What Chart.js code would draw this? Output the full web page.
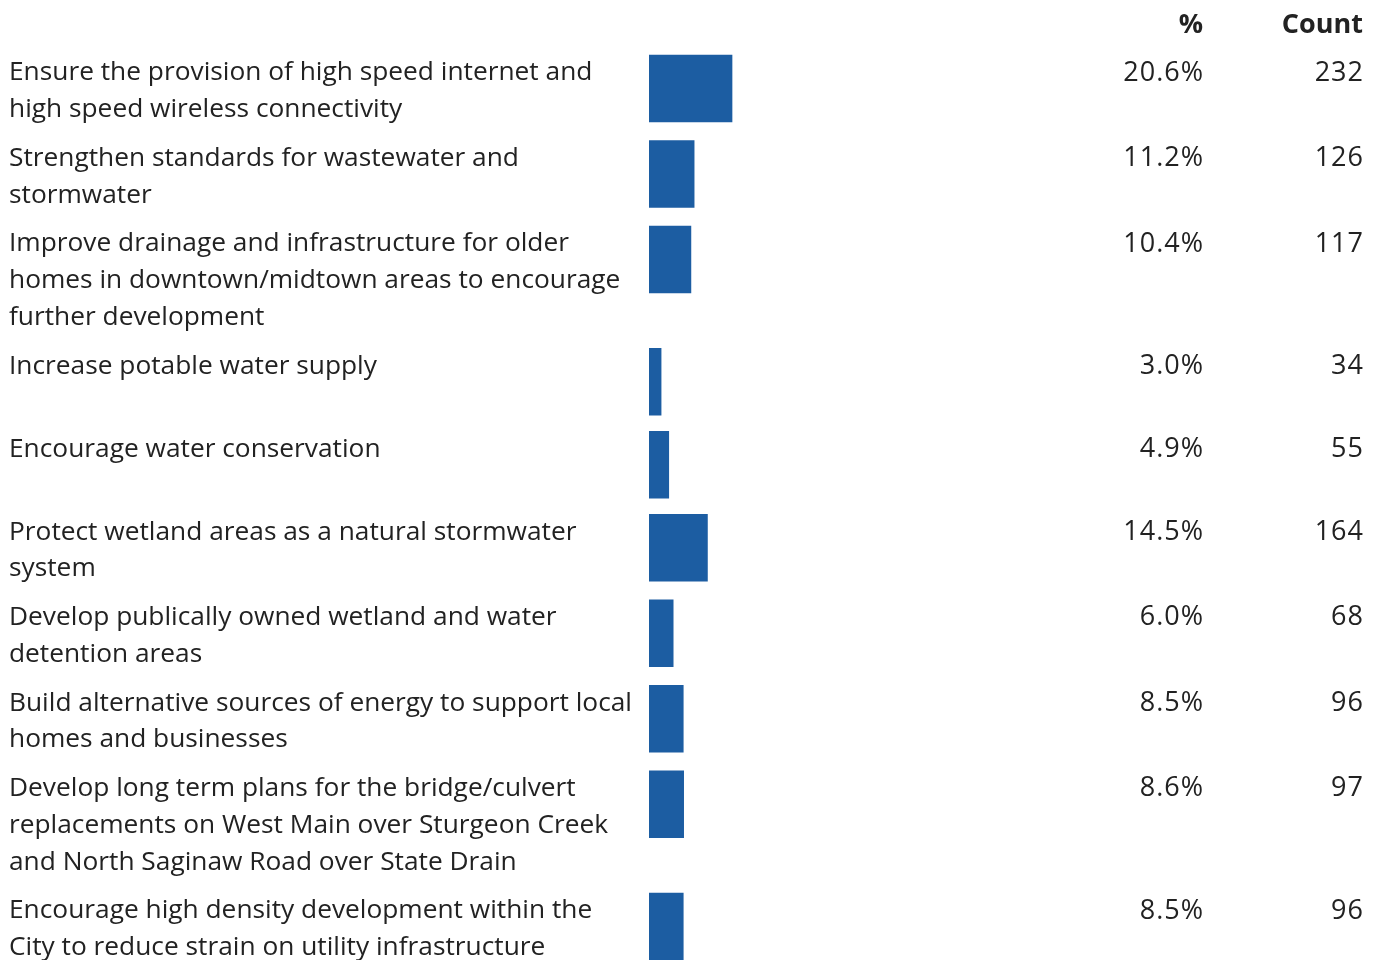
<!DOCTYPE html>
<html>
<head>
<meta charset="utf-8">
<script src="https://cdn.jsdelivr.net/npm/chart.js@4"></script>
<style>
  body { margin: 0; background: #fff; }
  #wrap { width: 1374px; height: 960px; position: relative; }
</style>
</head>
<body>
<div id="wrap"><canvas id="myChart"></canvas></div>
<script>
// chart data
const categories = [
    ['Ensure the provision of high speed internet and', 'high speed wireless connectivity'],
    ['Strengthen standards for wastewater and', 'stormwater'],
    ['Improve drainage and infrastructure for older', 'homes in downtown/midtown areas to encourage', 'further development'],
    ['Increase potable water supply'],
    ['Encourage water conservation'],
    ['Protect wetland areas as a natural stormwater', 'system'],
    ['Develop publically owned wetland and water', 'detention areas'],
    ['Build alternative sources of energy to support local', 'homes and businesses'],
    ['Develop long term plans for the bridge/culvert', 'replacements on West Main over Sturgeon Creek', 'and North Saginaw Road over State Drain'],
    ['Encourage high density development within the', 'City to reduce strain on utility infrastructure']
];
const percents = [20.6, 11.2, 10.4, 3.0, 4.9, 14.5, 6.0, 8.5, 8.6, 8.5];
const counts = [232, 126, 117, 34, 55, 164, 68, 96, 97, 96];
const headers = ['%', 'Count'];

document.addEventListener("DOMContentLoaded", function () {

    const FONT = '"Open Sans", "Noto Sans", sans-serif';
    const LINE = 36.75;
    const BAR = 67;

    // row tops depend on how many lines the label wraps to
    const rowTops = [];
    let top = 55;
    categories.forEach(lines => {
        rowTops.push(top);
        top += Math.max(83, LINE * lines.length + 12);
    });

    const points = percents.map((p, i) => ({ x: p, y: rowTops[i] + BAR / 2 }));

    // draws labels, percentages and counts beside the bars
    const tableText = {
        id: 'tableText',
        afterDraw(chart) {
            const ctx = chart.ctx;
            const yScale = chart.scales.y;
            ctx.save();
            ctx.fillStyle = '#222';
            ctx.textBaseline = 'middle';

            ctx.font = 'bold 27px ' + FONT;
            ctx.textAlign = 'right';
            ctx.fillText(headers[0], 1203, 25);
            ctx.fillText(headers[1], 1363, 25);

            categories.forEach((lines, i) => {
                const y0 = yScale.getPixelForValue(rowTops[i]) + 18;
                ctx.font = '26.3px ' + FONT;
                ctx.letterSpacing = '0px';
                ctx.textAlign = 'left';
                lines.forEach((line, k) => ctx.fillText(line, 9, y0 + k * LINE));
                ctx.textAlign = 'right';
                ctx.font = '27px ' + FONT;
                ctx.letterSpacing = '1px';
                ctx.fillText(percents[i].toFixed(1) + '%', 1204, y0);
                ctx.fillText(String(counts[i]), 1364, y0);
            });
            ctx.restore();
        }
    };

    const ctx = document.getElementById('myChart').getContext('2d');
    new Chart(ctx, {
        type: 'bar',
        data: {
            datasets: [{
                data: points,
                backgroundColor: '#1c5da2',
                borderWidth: 0,
                barThickness: BAR
            }]
        },
        options: {
            indexAxis: 'y',
            responsive: true,
            maintainAspectRatio: false,
            animation: false,
            layout: { padding: { left: 649, right: 322, top: 0, bottom: 0 } },
            plugins: {
                legend: { display: false },
                tooltip: { enabled: false }
            },
            scales: {
                x: { type: 'linear', min: 0, max: 100, display: false },
                y: { type: 'linear', min: 0, max: 960, reverse: true, offset: false, display: false }
            }
        },
        plugins: [tableText]
    });
});
</script>
</body>
</html>
